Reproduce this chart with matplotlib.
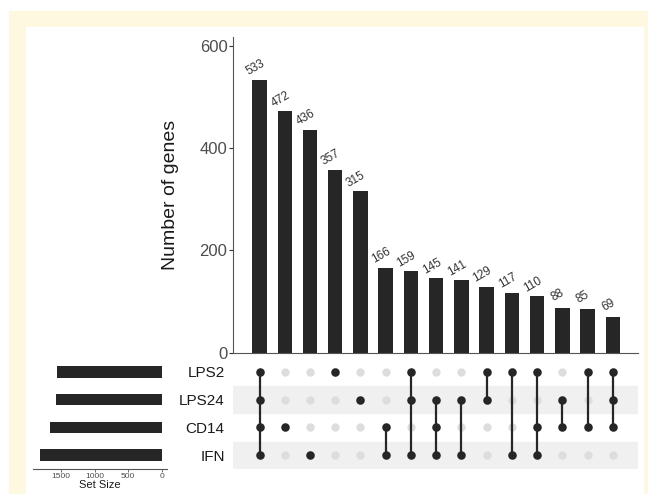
import matplotlib
matplotlib.use('Agg')
import matplotlib.pyplot as plt
import numpy as np

plt.rcParams['font.family'] = ['Liberation Sans', 'DejaVu Sans']

# set names (top to bottom in the matrix)
set_names = ['LPS2', 'LPS24', 'CD14', 'IFN']
set_sizes = [1559, 1579, 1668, 1807]

# intersection sizes and their members
counts = [533, 472, 436, 357, 315, 166, 159, 145, 141, 129, 117, 110, 88, 85, 69]
members = [
    ['LPS2', 'LPS24', 'CD14', 'IFN'],
    ['CD14'],
    ['IFN'],
    ['LPS2'],
    ['LPS24'],
    ['CD14', 'IFN'],
    ['LPS2', 'LPS24', 'IFN'],
    ['LPS24', 'CD14', 'IFN'],
    ['LPS24', 'IFN'],
    ['LPS2', 'LPS24'],
    ['LPS2', 'IFN'],
    ['LPS2', 'CD14', 'IFN'],
    ['LPS24', 'CD14'],
    ['LPS2', 'CD14'],
    ['LPS2', 'LPS24', 'CD14'],
]

bar_col = '#262626'
txt_col = '#4d4d4d'

fig = plt.figure(figsize=(6.48, 4.94), dpi=100)
# cream frame behind a white panel
fig.patches.append(plt.Rectangle((9 / 648, 0), 1, 1 - 11 / 494, transform=fig.transFigure,
                                 color='#FEF8E0', zorder=-10))
fig.patches.append(plt.Rectangle((26 / 648, 0), (643 - 26) / 648, 1 - 27 / 494,
                                 transform=fig.transFigure, color='white', zorder=-9))

x = np.arange(len(counts))
xlim = (-1.05, 15.0)

# intersection bars
ax = fig.add_axes([0.3596, 0.2862, 0.625, 0.6389])
ax.patch.set_alpha(0)
ax.bar(x, counts, width=0.57, color=bar_col)
for xi, c in zip(x, counts):
    ax.annotate(str(c), (xi, c), xytext=(-1, 5), textcoords='offset points',
                rotation=30, ha='center', va='bottom', fontsize=8.5, color='#333333',
                rotation_mode='anchor')
ax.set_xlim(xlim)
ax.set_ylim(0, 617)
ax.set_yticks([0, 200, 400, 600])
ax.set_xticks([])
ax.tick_params(axis='y', labelsize=12, labelcolor=txt_col, length=3, width=0.8, color='#333333', pad=1)
for s in ['top', 'right']:
    ax.spines[s].set_visible(False)
for s in ['left', 'bottom']:
    ax.spines[s].set_color('#555555')
    ax.spines[s].set_linewidth(0.8)
ax.set_ylabel('Number of genes', fontsize=14, color='#1a1a1a', labelpad=15)

# matrix of set membership
mx = fig.add_axes([0.3596, 0.0506, 0.625, 0.2247])
mx.patch.set_alpha(0)
rows = np.arange(len(set_names))
for r in rows:
    if r % 2 == 1:
        mx.axhspan(r - 0.49, r + 0.49, color='#F0F0F0', zorder=0)
for xi, mem in zip(x, members):
    on = [set_names.index(m) for m in mem]
    off = [r for r in rows if r not in on]
    mx.scatter([xi] * len(off), off, s=36, color='#DDDDDD', zorder=2, linewidths=0)
    if len(on) > 1:
        mx.plot([xi, xi], [min(on), max(on)], color=bar_col, lw=1.6, zorder=3)
    mx.scatter([xi] * len(on), on, s=38, color=bar_col, zorder=4, linewidths=0)
mx.set_xlim(xlim)
mx.set_ylim(3.5, -0.5)
mx.set_xticks([])
mx.set_yticks(rows)
mx.set_yticklabels(set_names)
mx.tick_params(axis='y', length=0, labelsize=11, labelcolor='#1a1a1a', pad=6)
for s in mx.spines.values():
    s.set_visible(False)

# set size bars
sx = fig.add_axes([0.0509, 0.0506, 0.2063, 0.2247])
sx.patch.set_alpha(0)
sx.barh(rows, set_sizes, height=0.42, color=bar_col)
sx.set_xlim(1918, -75)
sx.set_ylim(3.5, -0.5)
sx.set_yticks([])
sx.set_xticks([1500, 1000, 500, 0])
sx.tick_params(axis='x', labelsize=6, labelcolor=txt_col, length=2, width=0.6, color='#555555', pad=1)
sx.set_xlabel('Set Size', fontsize=8, color='#1a1a1a', labelpad=0)
for s in ['top', 'right', 'left']:
    sx.spines[s].set_visible(False)
sx.spines['bottom'].set_color('#555555')
sx.spines['bottom'].set_linewidth(0.8)

fig.savefig('out.png', dpi=100)
